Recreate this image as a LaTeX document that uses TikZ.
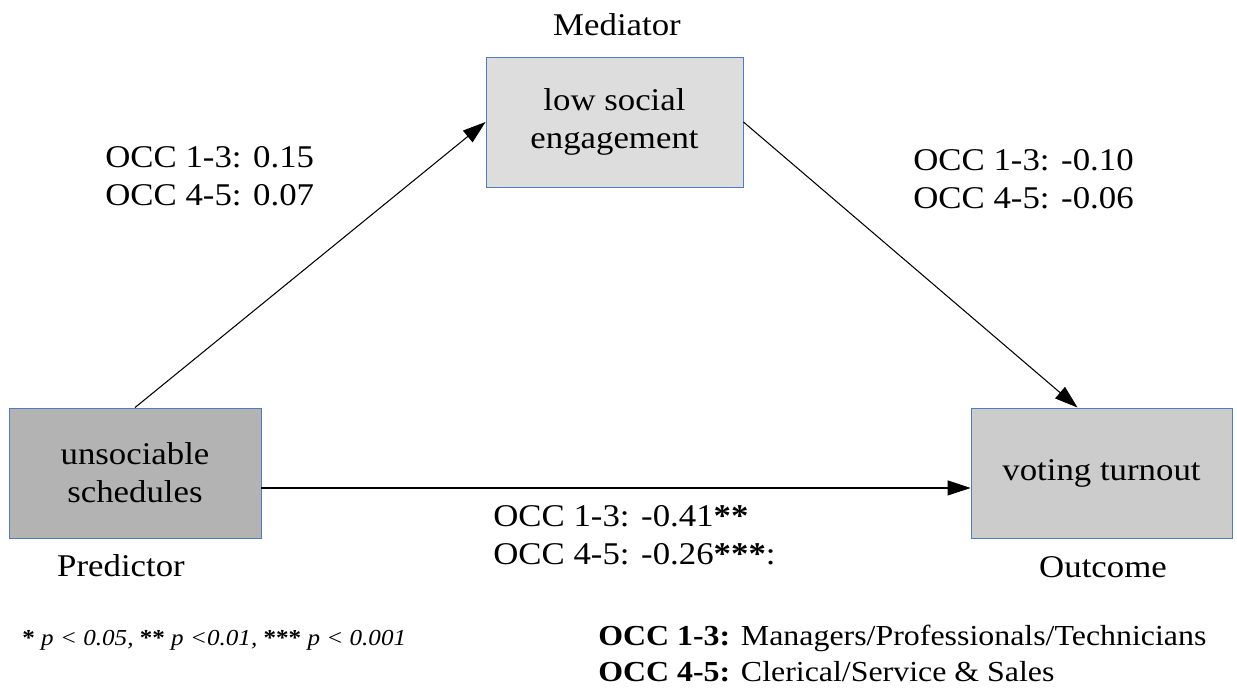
\documentclass[tikz,border=0pt]{standalone}
\usepackage{fontspec}
\setmainfont{Liberation Serif}[FakeStretch=1.1]
\usetikzlibrary{arrows.meta}
\definecolor{boxline}{HTML}{4F7CBA}
\definecolor{predfill}{HTML}{B3B3B3}
\definecolor{medfill}{HTML}{DDDDDD}
\definecolor{outfill}{HTML}{CCCCCC}
\def\BigText{\fontsize{18}{21.5}\selectfont}

\begin{document}
\begin{tikzpicture}[
    varbox/.style={draw=boxline, line width=0.5pt, rectangle, minimum height=2.6cm,
                   align=center, font=\BigText, inner sep=0pt},
    role/.style={font=\BigText},
    coef/.style={font=\BigText, align=left, anchor=west, inner sep=0pt},
    path/.style={line width=0.6pt, -{Triangle[length=0.46cm,width=0.3cm]}}
  ]
  \useasboundingbox (0,0) rectangle (24.74,13.84);
  % the three variables
  \node[varbox, fill=predfill, minimum width=5.04cm] (pred) at (2.70,4.38) {unsociable\\ schedules};
  \node[varbox, fill=medfill, minimum width=5.14cm] (med) at (12.29,11.40) {low social\\ engagement};
  \node[varbox, fill=outfill, minimum width=5.22cm] (out) at (22.03,4.38) {voting turnout};
  \node[role] (predlab) at (2.42,2.52) {Predictor};
  \node[role] (medlab) at (12.34,13.34) {Mediator};
  \node[role] (outlab) at (22.06,2.50) {Outcome};
  % paths
  \draw[path] (pred.north) -- (med.west);
  \draw[path] (med.east) -- ([xshift=-0.48cm]out.north);
  \draw[path] ([yshift=-0.3cm]pred.east) -- ([yshift=-0.3cm]out.west);
  % coefficients
  \node[coef] (acoef) at (2.10,10.32) {OCC 1-3: 0.15\\ OCC 4-5: 0.07};
  \node[coef] (bcoef) at (18.26,10.25) {OCC 1-3: -0.10\\ OCC 4-5: -0.06};
  \node[coef] (ccoef) at (9.86,3.13) {OCC 1-3: -0.41\textbf{**}\\ OCC 4-5: -0.26\textbf{***}:};
  % notes
  \node[coef, font=\fontsize{13}{16}\selectfont] (signote) at (0.44,1.04)
    {\textbf{*} \textit{p < 0.05,} \textbf{**} \textit{p <0.01,} \textbf{***} \textit{p < 0.001}};
  \node[coef, font=\fontsize{16.5}{20}\selectfont] (occnote) at (11.96,0.77)
    {\textbf{OCC 1-3:} Managers/Professionals/Technicians\\ \textbf{OCC 4-5:} Clerical/Service \& Sales};
\end{tikzpicture}
\end{document}
